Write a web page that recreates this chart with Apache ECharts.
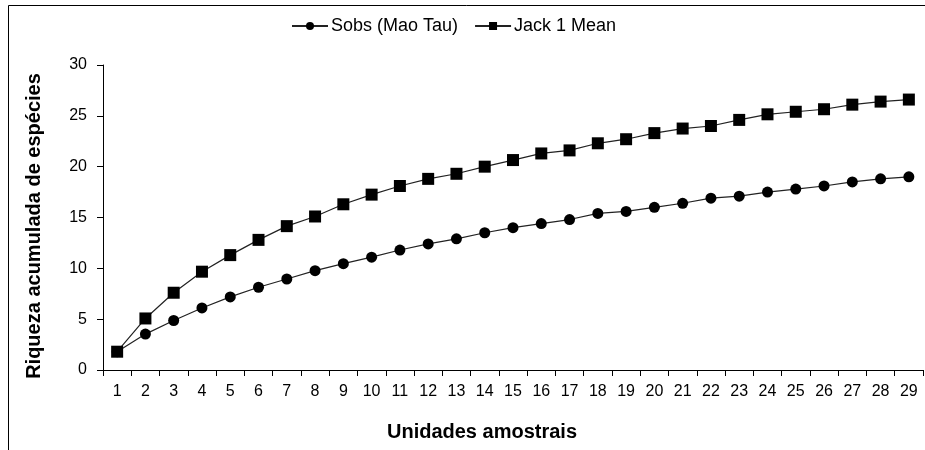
<!DOCTYPE html>
<html><head><meta charset="utf-8">
<script src="https://cdn.jsdelivr.net/npm/echarts@6/dist/echarts.min.js"></script>
<style>html,body{margin:0;padding:0;background:#fff}#c{width:925px;height:450px}</style>
</head><body><div id="c"></div>
<script>
const categories = ['1','2','3','4','5','6','7','8','9','10','11','12','13','14','15','16','17','18','19','20','21','22','23','24','25','26','27','28','29'];
const sobs = [1.8,3.53,4.87,6.1,7.19,8.14,8.95,9.77,10.46,11.1,11.8,12.4,12.9,13.5,14.0,14.4,14.8,15.4,15.6,16.0,16.4,16.9,17.1,17.5,17.8,18.1,18.5,18.8,19.0];
const jack1 = [1.8,5.07,7.6,9.67,11.3,12.8,14.15,15.1,16.3,17.25,18.1,18.8,19.3,20.0,20.65,21.3,21.6,22.3,22.7,23.3,23.75,24.0,24.6,25.15,25.4,25.65,26.1,26.4,26.6];
const seriesNames = ['Sobs (Mao Tau)', 'Jack 1 Mean'];
const xTitle = 'Unidades amostrais';
const yTitle = 'Riqueza acumulada de espécies';
const yTicks = {min: 0, max: 30, interval: 5};

const chart = echarts.init(document.getElementById('c'), null, {renderer: 'canvas'});
const font = '"Liberation Sans", Arial, sans-serif';
chart.setOption({
  animation: false,
  backgroundColor: '#fff',
  textStyle: {fontFamily: font},
  graphic: [
    {type: 'line', shape: {x1: 8.5, y1: 5.5, x2: 925, y2: 5.5}, style: {stroke: '#000', lineWidth: 1}},
    {type: 'line', shape: {x1: 8.5, y1: 5.5, x2: 8.5, y2: 450}, style: {stroke: '#000', lineWidth: 1}},
    {type: 'text', x: 482, y: 432, style: {text: xTitle, font: 'bold 20px ' + font, fill: '#000', textAlign: 'center', textVerticalAlign: 'middle'}},
    {type: 'text', x: 34, y: 226, rotation: Math.PI / 2, style: {text: yTitle, font: 'bold 20px ' + font, fill: '#000', textAlign: 'center', textVerticalAlign: 'middle'}}
  ],
  legend: {
    top: 12, left: 286,
    itemWidth: 36, itemHeight: 10, itemGap: 16,
    textStyle: {fontFamily: font, fontSize: 18, color: '#000', padding: [0, 0, 0, -2]},
    data: seriesNames
  },
  grid: {left: 103, right: 2, top: 65, bottom: 80},
  xAxis: {
    type: 'category', data: categories, boundaryGap: true,
    axisLine: {lineStyle: {color: '#000', width: 1}},
    axisTick: {show: true, length: 6, interval: 0, lineStyle: {color: '#000'}},
    axisLabel: {interval: 0, fontSize: 16, color: '#000', margin: 14, fontFamily: font}
  },
  yAxis: {
    type: 'value', min: yTicks.min, max: yTicks.max, interval: yTicks.interval,
    axisLine: {show: true, lineStyle: {color: '#000', width: 1}},
    axisTick: {show: true, length: 6, lineStyle: {color: '#000'}},
    axisLabel: {fontSize: 16, color: '#000', margin: 16, fontFamily: font},
    splitLine: {show: false}
  },
  series: [
    {name: seriesNames[0], type: 'line', data: sobs, symbol: 'circle', symbolSize: 11,
     itemStyle: {color: '#000'}, lineStyle: {color: '#222', width: 1.2}},
    {name: seriesNames[1], type: 'line', data: jack1, symbol: 'rect', symbolSize: 12,
     itemStyle: {color: '#000'}, lineStyle: {color: '#222', width: 1.2}}
  ]
});
</script></body></html>
